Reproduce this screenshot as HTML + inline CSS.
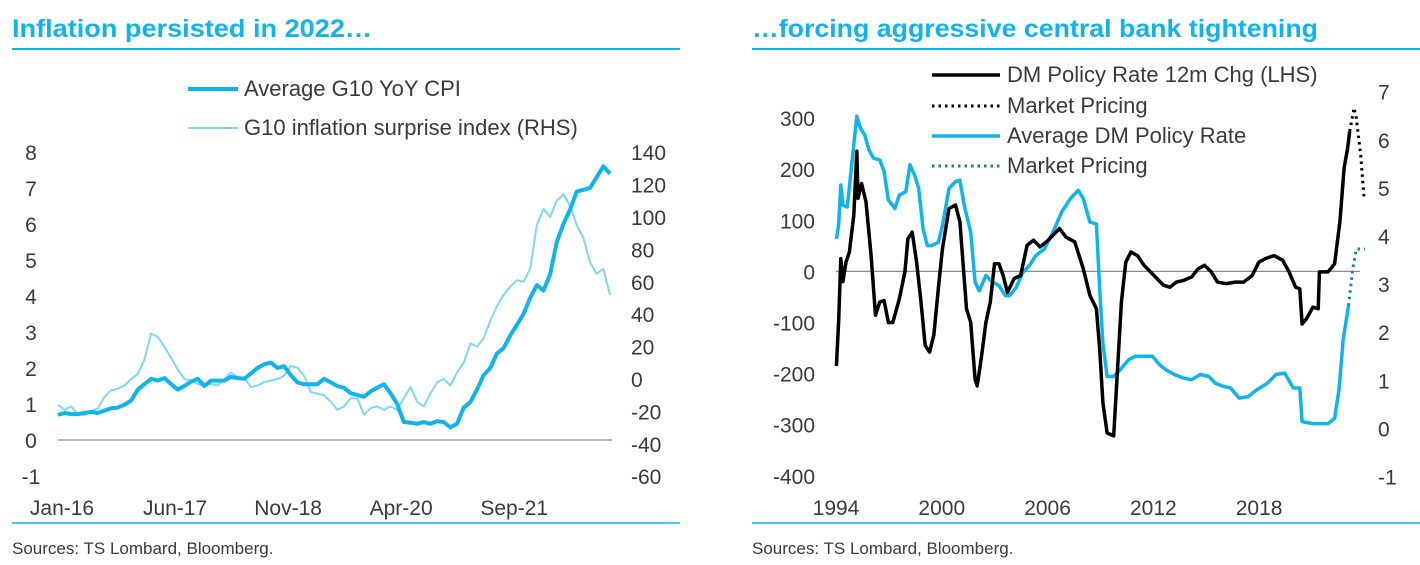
<!DOCTYPE html>
<html><head><meta charset="utf-8">
<style>
html,body{margin:0;padding:0;background:#fff;width:1420px;height:565px;overflow:hidden}
svg{display:block;font-family:"Liberation Sans Narrow","Liberation Sans",sans-serif}
.t{fill:#0fb4ec;font-weight:bold;font-size:25px}
.ax{fill:#3a3a3a;font-size:21px}
.lg{fill:#3a3a3a;font-size:22px}
.src{fill:#3a3a3a;font-size:17px}
</style></head>
<body>
<svg id="root" width="1420" height="565" viewBox="0 0 1420 565">
  <text class="t" x="12" y="37" textLength="360" lengthAdjust="spacingAndGlyphs">Inflation persisted in 2022…</text>
  <line x1="12" y1="49" x2="680" y2="49" stroke="#0fb4ec" stroke-width="2"/>
  <text class="t" x="752" y="37" textLength="566" lengthAdjust="spacingAndGlyphs">…forcing aggressive central bank tightening</text>
  <line x1="752" y1="49" x2="1420" y2="49" stroke="#0fb4ec" stroke-width="2"/>
  <line x1="12" y1="523" x2="680" y2="523" stroke="#0fb4ec" stroke-width="1.5"/>
  <line x1="752" y1="523" x2="1420" y2="523" stroke="#0fb4ec" stroke-width="1.5"/>
  <text class="src" x="12" y="554">Sources: TS Lombard, Bloomberg.</text>
  <text class="src" x="752" y="554">Sources: TS Lombard, Bloomberg.</text>

  <line x1="188" y1="89" x2="238" y2="89" stroke="#0fb4ec" stroke-width="4"/>
  <text class="lg" x="244" y="96">Average G10 YoY CPI</text>
  <line x1="188" y1="128" x2="238" y2="128" stroke="#7fd6f5" stroke-width="2"/>
  <text class="lg" x="244" y="135">G10 inflation surprise index (RHS)</text>

  <line x1="932" y1="75" x2="1000" y2="75" stroke="#000" stroke-width="3.5"/>
  <text class="lg" x="1007" y="82">DM Policy Rate 12m Chg (LHS)</text>
  <line x1="932" y1="106" x2="1000" y2="106" stroke="#000" stroke-width="3" stroke-dasharray="2.5 4"/>
  <text class="lg" x="1007" y="113">Market Pricing</text>
  <line x1="932" y1="136" x2="1000" y2="136" stroke="#0fb4ec" stroke-width="3.5"/>
  <text class="lg" x="1007" y="143">Average DM Policy Rate</text>
  <line x1="932" y1="166" x2="1000" y2="166" stroke="#1a7fa3" stroke-width="3" stroke-dasharray="2.5 4"/>
  <text class="lg" x="1007" y="173">Market Pricing</text>

  <g id="left"></g>
  <g id="right"></g>
</svg>
<script>
const cpiStartYear = 2016;
const cpiValues = [0.7,0.75,0.72,0.72,0.75,0.78,0.75,0.82,0.88,0.9,0.98,1.1,
1.4,1.55,1.7,1.65,1.72,1.55,1.4,1.5,1.62,1.7,1.5,1.65,
1.65,1.65,1.75,1.72,1.7,1.85,2.0,2.1,2.15,2.0,2.05,1.8,
1.6,1.55,1.55,1.55,1.7,1.6,1.5,1.45,1.3,1.25,1.2,1.35,
1.45,1.55,1.3,1.0,0.5,0.48,0.45,0.5,0.45,0.52,0.5,0.35,
0.45,0.9,1.05,1.4,1.8,2.0,2.4,2.55,2.9,3.2,3.5,3.95,
4.3,4.15,4.6,5.5,6.0,6.4,6.9,6.95,7.0,7.3,7.6,7.4];
const surpriseValues = [-16,-19,-17,-22,-22,-20,-18,-11,-7,-6,-4,0,
3,12,28,26,20,13,6,0,-1,-3,-4,-3,
-4,0,4,1,1,-5,-4,-2,-1,0,2,8,
7,2,-8,-9,-10,-14,-19,-17,-12,-12,-22,-18,
-17,-19,-17,-19,-12,-5,-14,-17,-9,-2,0,-4,
4,10,22,20,25,36,45,52,57,61,60,68,
95,105,100,110,114,107,95,87,72,65,68,52];
const leftTicks = [8,7,6,5,4,3,2,1,0,-1];
const rightTicks = [140,120,100,80,60,40,20,0,-20,-40,-60];
const xTickLabels = ["Jan-16","Jun-17","Nov-18","Apr-20","Sep-21"];
const xTickMonths = [0,17,34,51,68];

const chgYears = [1994.02,1994.15,1994.27,1994.39,1994.57,1994.76,1995.01,1995.18,1995.25,1995.45,1995.70,1995.99,1996.24,1996.48,1996.73,1996.97,1997.22,1997.59,1997.91,1998.08,1998.32,1998.57,1998.82,1999.06,1999.31,1999.55,1999.80,2000.04,2000.41,2000.78,2001.03,2001.40,2001.64,2001.89,2002.01,2002.26,2002.50,2002.75,2002.99,2003.24,2003.48,2003.73,2004.10,2004.47,2004.84,2005.20,2005.57,2005.94,2006.31,2006.68,2007.05,2007.54,2008.03,2008.40,2008.77,2008.96,2009.14,2009.38,2009.75,2010.00,2010.19,2010.44,2010.73,2011.10,2011.47,2011.84,2012.21,2012.57,2012.94,2013.31,2013.68,2014.17,2014.54,2014.91,2015.28,2015.64,2016.14,2016.63,2017.12,2017.61,2017.98,2018.35,2018.84,2019.33,2019.70,2020.07,2020.31,2020.44,2020.68,2021.05,2021.35,2021.42,2021.91,2022.28,2022.58,2022.82,2023.02,2023.14];
const chgValues = [-185,-100,25,-20,18,38,110,235,143,172,136,31,-86,-60,-57,-100,-100,-54,-1,64,77,18,-60,-145,-158,-125,-34,45,123,130,97,-73,-100,-211,-224,-165,-100,-60,15,15,-8,-41,-14,-8,51,61,48,58,71,84,67,58,5,-47,-73,-152,-257,-316,-322,-172,-60,18,38,31,12,-1,-14,-27,-31,-21,-18,-11,5,12,-1,-21,-24,-21,-21,-8,18,25,31,22,-1,-31,-34,-103,-93,-70,-73,-1,-1,15,97,202,241,274];
const chgPricingYears = [2023.14,2023.39,2023.51,2023.76,2023.95];
const chgPricingValues = [274,320,300,228,146];
const rateYears = [1994.02,1994.15,1994.27,1994.39,1994.64,1994.89,1995.18,1995.38,1995.63,1995.87,1996.12,1996.49,1996.73,1996.97,1997.34,1997.59,1997.96,1998.20,1998.45,1998.69,1998.94,1999.18,1999.43,1999.80,2000.04,2000.41,2000.78,2001.03,2001.27,2001.64,2001.89,2002.13,2002.50,2002.87,2003.24,2003.61,2003.85,2004.22,2004.59,2004.96,2005.33,2005.82,2006.31,2006.80,2007.30,2007.74,2008.03,2008.40,2008.77,2008.96,2009.14,2009.38,2009.75,2010.12,2010.61,2010.98,2011.47,2011.96,2012.33,2012.70,2013.19,2013.68,2014.17,2014.66,2015.15,2015.52,2016.01,2016.38,2016.87,2017.37,2017.86,2018.47,2018.96,2019.45,2019.94,2020.31,2020.44,2021.05,2021.91,2022.28,2022.53,2022.77,2023.07];
const rateValues = [3.94,4.22,5.06,4.64,4.6,5.48,6.49,6.25,6.1,5.79,5.62,5.58,5.34,4.75,4.57,4.85,4.92,5.48,5.27,4.99,4.15,3.8,3.8,3.87,4.22,4.99,5.13,5.16,4.64,4.08,3.04,2.86,3.18,3.04,2.97,2.76,2.76,2.93,3.24,3.38,3.59,3.73,4.08,4.5,4.78,4.95,4.78,4.29,4.25,2.9,1.78,1.08,1.08,1.22,1.43,1.5,1.5,1.5,1.33,1.22,1.12,1.05,1.01,1.12,1.08,0.94,0.87,0.84,0.63,0.66,0.8,0.94,1.12,1.15,0.84,0.84,0.14,0.1,0.1,0.21,0.8,1.85,2.55];
const ratePricingYears = [2023.07,2023.31,2023.51,2024.0];
const ratePricingValues = [2.55,3.31,3.73,3.73];
const chgTicks = [300,200,100,0,-100,-200,-300,-400];
const rateTicks = [7,6,5,4,3,2,1,0,-1];
const yearTicks = [1994,2000,2006,2012,2018];

const NS="http://www.w3.org/2000/svg";
function mk(parent,tag,attrs){const e=document.createElementNS(NS,tag);for(const k in attrs)e.setAttribute(k,attrs[k]);parent.appendChild(e);return e;}
function pathFrom(xs,ys){return xs.map((x,i)=>(i?"L":"M")+x.toFixed(1)+","+ys[i].toFixed(1)).join("");}

const L=document.getElementById("left");
const lx=m=>58+m*6.65;
const lyL=v=>440-36*v;
const lyR=v=>379-1.62*v;
let z=mk(L,"line",{x1:58,y1:440,x2:612,y2:440,stroke:"#8c8c8c","stroke-width":1.3});


leftTicks.forEach(v=>{const t=mk(L,"text",{x:31,y:lyL(v)+8,"text-anchor":"middle",class:"ax"});t.textContent=v;

});
rightTicks.forEach(v=>{const t=mk(L,"text",{x:631,y:lyR(v)+8,class:"ax"});t.textContent=v;

});
xTickLabels.forEach((s,i)=>{const t=mk(L,"text",{x:lx(xTickMonths[i])+4,y:515,"text-anchor":"middle",class:"ax"});t.textContent=s;

});
let p=mk(L,"path",{d:pathFrom(surpriseValues.map((v,i)=>lx(i)),surpriseValues.map(lyR)),fill:"none",stroke:"#7fd6f5","stroke-width":2,"stroke-linejoin":"round"});


p=mk(L,"path",{d:pathFrom(cpiValues.map((v,i)=>lx(i)),cpiValues.map(lyL)),fill:"none",stroke:"#0fb4ec","stroke-width":4,"stroke-linejoin":"round"});



const R=document.getElementById("right");
const rx=y=>836+(y-1994)*17.63;
const ryL=v=>271.4-0.511*v;
const ryR=v=>428.4-48.1*v;
z=mk(R,"line",{x1:836,y1:ryL(0),x2:1360,y2:ryL(0),stroke:"#8c8c8c","stroke-width":1.3});


chgTicks.forEach(v=>{const t=mk(R,"text",{x:815,y:ryL(v)+8,"text-anchor":"end",class:"ax"});t.textContent=v;

});
rateTicks.forEach(v=>{const t=mk(R,"text",{x:1378,y:ryR(v)+8,class:"ax"});t.textContent=v;

});
yearTicks.forEach(v=>{const t=mk(R,"text",{x:rx(v),y:515,"text-anchor":"middle",class:"ax"});t.textContent=v;

});
p=mk(R,"path",{d:pathFrom(rateYears.map(rx),rateValues.map(ryR)),fill:"none",stroke:"#0fb4ec","stroke-width":3.5,"stroke-linejoin":"round"});


p=mk(R,"path",{d:pathFrom(ratePricingYears.map(rx),ratePricingValues.map(ryR)),fill:"none",stroke:"#1a7fa3","stroke-width":3,"stroke-dasharray":"2.5 4"});


p=mk(R,"path",{d:pathFrom(chgYears.map(rx),chgValues.map(ryL)),fill:"none",stroke:"#000","stroke-width":3.5,"stroke-linejoin":"round"});


p=mk(R,"path",{d:pathFrom(chgPricingYears.map(rx),chgPricingValues.map(ryL)),fill:"none",stroke:"#000","stroke-width":3,"stroke-dasharray":"2.5 4"});


</script>
</body></html>
